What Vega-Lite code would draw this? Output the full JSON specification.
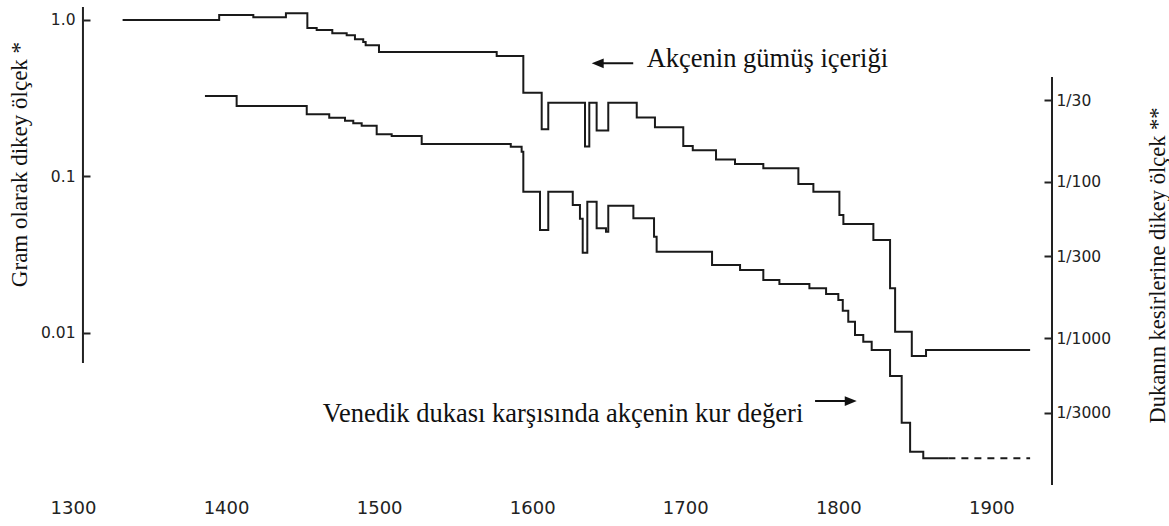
{
  "$schema": "https://vega.github.io/schema/vega-lite/v6.json",
  "width": 992,
  "height": 478,
  "autosize": {"type": "none"},
  "padding": {"left": 60, "top": 7, "right": 117, "bottom": 41},
  "background": "white",
  "config": {"view": {"stroke": null}, "font": "DejaVu Sans"},
  "datasets": {
    "gumus": [
      {"yil": 1332.4, "gram": 1.0},
      {"yil": 1395.5, "gram": 1.077},
      {"yil": 1417.8, "gram": 1.04},
      {"yil": 1439.1, "gram": 1.104},
      {"yil": 1453.1, "gram": 0.889},
      {"yil": 1459.2, "gram": 0.863},
      {"yil": 1469.4, "gram": 0.822},
      {"yil": 1478.8, "gram": 0.798},
      {"yil": 1484.2, "gram": 0.752},
      {"yil": 1489.6, "gram": 0.723},
      {"yil": 1491.2, "gram": 0.689},
      {"yil": 1499.9, "gram": 0.624},
      {"yil": 1576.8, "gram": 0.588},
      {"yil": 1594.2, "gram": 0.343},
      {"yil": 1606.2, "gram": 0.2},
      {"yil": 1610.5, "gram": 0.296},
      {"yil": 1634.5, "gram": 0.155},
      {"yil": 1637.3, "gram": 0.296},
      {"yil": 1642.1, "gram": 0.196},
      {"yil": 1649.7, "gram": 0.296},
      {"yil": 1668.3, "gram": 0.238},
      {"yil": 1680.2, "gram": 0.206},
      {"yil": 1698.7, "gram": 0.156},
      {"yil": 1704.9, "gram": 0.147},
      {"yil": 1720.1, "gram": 0.128},
      {"yil": 1732.5, "gram": 0.12},
      {"yil": 1751.0, "gram": 0.1125},
      {"yil": 1773.9, "gram": 0.0893},
      {"yil": 1783.7, "gram": 0.0797},
      {"yil": 1800.7, "gram": 0.0566},
      {"yil": 1803.3, "gram": 0.0495},
      {"yil": 1822.9, "gram": 0.0391},
      {"yil": 1833.8, "gram": 0.0192},
      {"yil": 1837.1, "gram": 0.01013},
      {"yil": 1848.0, "gram": 0.00709},
      {"yil": 1857.3, "gram": 0.00774},
      {"yil": 1925.3, "gram": 0.00774}
    ],
    "kur": [
      {"yil": 1386.2, "duka": 0.03537},
      {"yil": 1406.9, "duka": 0.03052},
      {"yil": 1452.7, "duka": 0.02701},
      {"yil": 1467.4, "duka": 0.0257},
      {"yil": 1477.7, "duka": 0.02458},
      {"yil": 1483.1, "duka": 0.02366},
      {"yil": 1488.6, "duka": 0.02284},
      {"yil": 1498.4, "duka": 0.02012},
      {"yil": 1508.2, "duka": 0.01962},
      {"yil": 1527.8, "duka": 0.01744},
      {"yil": 1586.0, "duka": 0.01676},
      {"yil": 1593.1, "duka": 0.01557},
      {"yil": 1594.2, "duka": 0.008641},
      {"yil": 1605.1, "duka": 0.004914},
      {"yil": 1610.5, "duka": 0.008641},
      {"yil": 1626.5, "duka": 0.007102},
      {"yil": 1631.2, "duka": 0.0058},
      {"yil": 1633.0, "duka": 0.003518},
      {"yil": 1636.0, "duka": 0.007466},
      {"yil": 1642.1, "duka": 0.005039},
      {"yil": 1648.2, "duka": 0.004793},
      {"yil": 1649.7, "duka": 0.007029},
      {"yil": 1666.1, "duka": 0.005839},
      {"yil": 1679.6, "duka": 0.004453},
      {"yil": 1681.3, "duka": 0.00357},
      {"yil": 1717.5, "duka": 0.002936},
      {"yil": 1735.8, "duka": 0.002727},
      {"yil": 1751.0, "duka": 0.002353},
      {"yil": 1761.5, "duka": 0.002219},
      {"yil": 1781.1, "duka": 0.002083},
      {"yil": 1792.0, "duka": 0.001915},
      {"yil": 1800.0, "duka": 0.001753},
      {"yil": 1802.9, "duka": 0.001498},
      {"yil": 1806.5, "duka": 0.001274},
      {"yil": 1810.9, "duka": 0.001047},
      {"yil": 1816.3, "duka": 0.000949},
      {"yil": 1821.8, "duka": 0.000839},
      {"yil": 1833.8, "duka": 0.000572},
      {"yil": 1841.4, "duka": 0.000288},
      {"yil": 1846.9, "duka": 0.0001877},
      {"yil": 1855.5, "duka": 0.0001703},
      {"yil": 1871.9, "duka": 0.0001703}
    ],
    "kurTahmin": [
      {"yil": 1871.9, "duka": 0.0001703},
      {"yil": 1925.3, "duka": 0.0001703}
    ],
    "tek": [{}]
  },
  "layer": [
    {
      "layer": [
        {
          "data": {"name": "gumus"},
          "mark": {"type": "line", "interpolate": "step-after", "color": "#1a1a1a", "strokeWidth": 2},
          "encoding": {
            "x": {
              "field": "yil", "type": "quantitative",
              "scale": {"domain": [1291.5, 1939.6], "nice": false, "zero": false},
              "axis": {
                "title": null, "values": [1300, 1400, 1500, 1600, 1700, 1800, 1900],
                "format": "d", "domain": false, "ticks": false, "grid": false,
                "labelFlush": false, "labelFont": "DejaVu Sans", "labelFontSize": 18,
                "labelColor": "#222", "labelPadding": 14
              }
            },
            "y": {
              "field": "gram", "type": "quantitative",
              "scale": {"type": "log", "domain": [0.001059, 1.211], "nice": false, "zero": false},
              "axis": {
                "orient": "left", "offset": -23,
                "values": [1, 0.1, 0.01],
                "labelExpr": "datum.value > 0.5 ? '1.0' : (datum.value > 0.05 ? '0.1' : '0.01')",
                "domain": false, "grid": false, "ticks": true, "tickSize": -7, "tickWidth": 2, "tickColor": "#222",
                "labelFont": "DejaVu Sans", "labelFontSize": 15.5, "labelColor": "#222", "labelPadding": 15,
                "title": "Gram olarak dikey ölçek *", "titleFont": "Liberation Serif", "titleFontSize": 23,
                "titleFontWeight": "normal", "titleColor": "#111", "titleAngle": 270,
                "titleX": -64, "titleY": 157, "titleAlign": "center", "titleBaseline": "middle"
              }
            }
          }
        },
        {
          "data": {"name": "tek"},
          "mark": {"type": "rule", "color": "#222", "strokeWidth": 2},
          "encoding": {
            "x": {"datum": 1306.5, "type": "quantitative"},
            "y": {"datum": 1.211, "type": "quantitative"},
            "y2": {"datum": 0.006391}
          }
        },
        {
          "data": {"name": "tek"},
          "mark": {"type": "rule", "color": "#111", "strokeWidth": 2},
          "encoding": {
            "x": {"datum": 1642.8, "type": "quantitative"},
            "x2": {"datum": 1666.0},
            "y": {"datum": 0.528, "type": "quantitative"}
          }
        },
        {
          "data": {"name": "tek"},
          "mark": {"type": "point", "shape": "M-1,0L1,-0.8L1,0.8Z", "filled": true, "color": "#111", "opacity": 1, "size": 144},
          "encoding": {
            "x": {"datum": 1642.8, "type": "quantitative"},
            "y": {"datum": 0.528, "type": "quantitative"}
          }
        },
        {
          "data": {"name": "tek"},
          "mark": {"type": "text", "text": "Akçenin gümüş içeriği", "font": "Liberation Serif", "fontSize": 26.5, "color": "#111", "align": "left", "baseline": "alphabetic"},
          "encoding": {
            "x": {"datum": 1674.8, "type": "quantitative"},
            "y": {"datum": 0.5026, "type": "quantitative"}
          }
        }
      ]
    },
    {
      "layer": [
        {
          "data": {"name": "kur"},
          "mark": {"type": "line", "interpolate": "step-after", "color": "#1a1a1a", "strokeWidth": 2},
          "encoding": {
            "x": {"field": "yil", "type": "quantitative", "scale": {"domain": [1291.5, 1939.6], "nice": false, "zero": false}},
            "y": {
              "field": "duka", "type": "quantitative",
              "scale": {"type": "log", "domain": [0.000115, 0.1313], "nice": false, "zero": false},
              "axis": {
                "orient": "right",
                "values": [0.0333333333, 0.01, 0.0033333333, 0.001, 0.00033333333],
                "labelExpr": "'1/' + format(1 / datum.value, '.0f')",
                "domain": false, "grid": false, "ticks": true, "tickSize": -8, "tickWidth": 2, "tickColor": "#222",
                "labelFont": "DejaVu Sans", "labelFontSize": 15.5, "labelColor": "#222", "labelPadding": 12,
                "title": "Dukanın kesirlerine dikey ölçek **", "titleFont": "Liberation Serif", "titleFontSize": 22.5,
                "titleFontWeight": "normal", "titleColor": "#111", "titleAngle": 270,
                "titleX": 105, "titleY": 258, "titleAlign": "center", "titleBaseline": "middle"
              }
            }
          }
        },
        {
          "data": {"name": "kurTahmin"},
          "mark": {"type": "line", "color": "#1a1a1a", "strokeWidth": 2, "strokeDash": [7, 6]},
          "encoding": {
            "x": {"field": "yil", "type": "quantitative"},
            "y": {"field": "duka", "type": "quantitative"}
          }
        },
        {
          "data": {"name": "tek"},
          "mark": {"type": "rule", "color": "#222", "strokeWidth": 2},
          "encoding": {
            "x": {"datum": 1939.6, "type": "quantitative"},
            "y": {"datum": 0.04677, "type": "quantitative"},
            "y2": {"datum": 0.000115}
          }
        },
        {
          "data": {"name": "tek"},
          "mark": {"type": "rule", "color": "#111", "strokeWidth": 2},
          "encoding": {
            "x": {"datum": 1784.8, "type": "quantitative"},
            "x2": {"datum": 1808.1},
            "y": {"datum": 0.0003958, "type": "quantitative"}
          }
        },
        {
          "data": {"name": "tek"},
          "mark": {"type": "point", "shape": "M1,0L-1,-0.8L-1,0.8Z", "filled": true, "color": "#111", "opacity": 1, "size": 144},
          "encoding": {
            "x": {"datum": 1808.1, "type": "quantitative"},
            "y": {"datum": 0.0003958, "type": "quantitative"}
          }
        },
        {
          "data": {"name": "tek"},
          "mark": {"type": "text", "text": "Venedik dukası karşısında akçenin kur değeri", "font": "Liberation Serif", "fontSize": 26.5, "color": "#111", "align": "right", "baseline": "alphabetic"},
          "encoding": {
            "x": {"datum": 1777.1, "type": "quantitative"},
            "y": {"datum": 0.000292, "type": "quantitative"}
          }
        }
      ]
    }
  ],
  "resolve": {"scale": {"y": "independent"}}
}
